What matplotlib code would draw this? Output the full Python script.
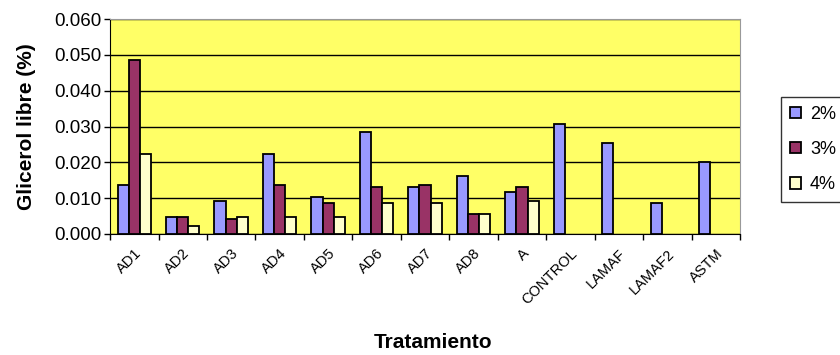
import numpy as np
import matplotlib.pyplot as plt

plt.rcParams['font.family'] = ['Liberation Sans', 'DejaVu Sans']

# glicerol libre por tratamiento y concentracion
tratamientos = ['AD1', 'AD2', 'AD3', 'AD4', 'AD5', 'AD6', 'AD7', 'AD8', 'A',
                'CONTROL', 'LAMAF', 'LAMAF2', 'ASTM']
g2 = [0.0137, 0.0046, 0.0091, 0.0222, 0.0102, 0.0284, 0.0131, 0.0163, 0.0118,
      0.0307, 0.0253, 0.0087, 0.0202]
g3 = [0.0487, 0.0046, 0.0042, 0.0137, 0.0087, 0.0131, 0.0137, 0.0057, 0.0131,
      np.nan, np.nan, np.nan, np.nan]
g4 = [0.0222, 0.0021, 0.0046, 0.0046, 0.0046, 0.0087, 0.0087, 0.0057, 0.0092,
      np.nan, np.nan, np.nan, np.nan]

fig = plt.figure(figsize=(8.4, 3.55), dpi=100)
ax = fig.add_axes([0.131, 0.341, 0.750, 0.605])
ax.set_facecolor('#FFFF66')

x = np.arange(len(tratamientos))
w = 0.23
ax.bar(x - w, g2, w, color='#9999FF', edgecolor='black', lw=1.3, label='2%', zorder=3)
ax.bar(x, g3, w, color='#993366', edgecolor='black', lw=1.3, label='3%', zorder=3)
ax.bar(x + w, g4, w, color='#FFFFCC', edgecolor='black', lw=1.3, label='4%', zorder=3)

ax.set_xlim(-0.5, len(tratamientos) - 0.5)
ax.set_ylim(0, 0.06)
yt = np.arange(0, 0.061, 0.01)
ax.set_yticks(yt)
ax.set_yticklabels(['%.3f' % v for v in yt], fontsize=13.5)
ax.yaxis.grid(True, color='black', lw=1, zorder=1)
ax.tick_params(axis='y', direction='out', length=4, width=1, pad=2)

# ticks between categories, labels at centers
ax.set_xticks(np.arange(len(tratamientos) + 1) - 0.5)
ax.set_xticklabels([])
ax.set_xticks(x, minor=True)
ax.set_xticklabels(tratamientos, minor=True, rotation=45, ha='right',
                   rotation_mode='anchor', fontsize=10.5)
ax.tick_params(axis='x', which='major', direction='out', length=4, width=1)
ax.tick_params(axis='x', which='minor', length=0, pad=9)

for s in ['top', 'right']:
    ax.spines[s].set_color('#999999')
for s in ['left', 'bottom']:
    ax.spines[s].set_color('black')

ax.set_ylabel('Glicerol libre (%)', fontsize=15, fontweight='bold')
ax.yaxis.set_label_coords(-0.118, 0.5)
ax.set_xlabel('Tratamiento', fontsize=15, fontweight='bold')
ax.xaxis.set_label_coords(0.513, -0.46)

leg = ax.legend(loc='upper left', bbox_to_anchor=(781 / 840, 1 - 97 / 355),
                bbox_transform=fig.transFigure, fontsize=13,
                frameon=True, fancybox=False, edgecolor='black',
                handlelength=0.6, handleheight=0.6, handletextpad=0.5,
                labelspacing=1.0, borderpad=0.5, borderaxespad=0)
leg.get_frame().set_linewidth(1)

fig.savefig('out.png', dpi=100)
